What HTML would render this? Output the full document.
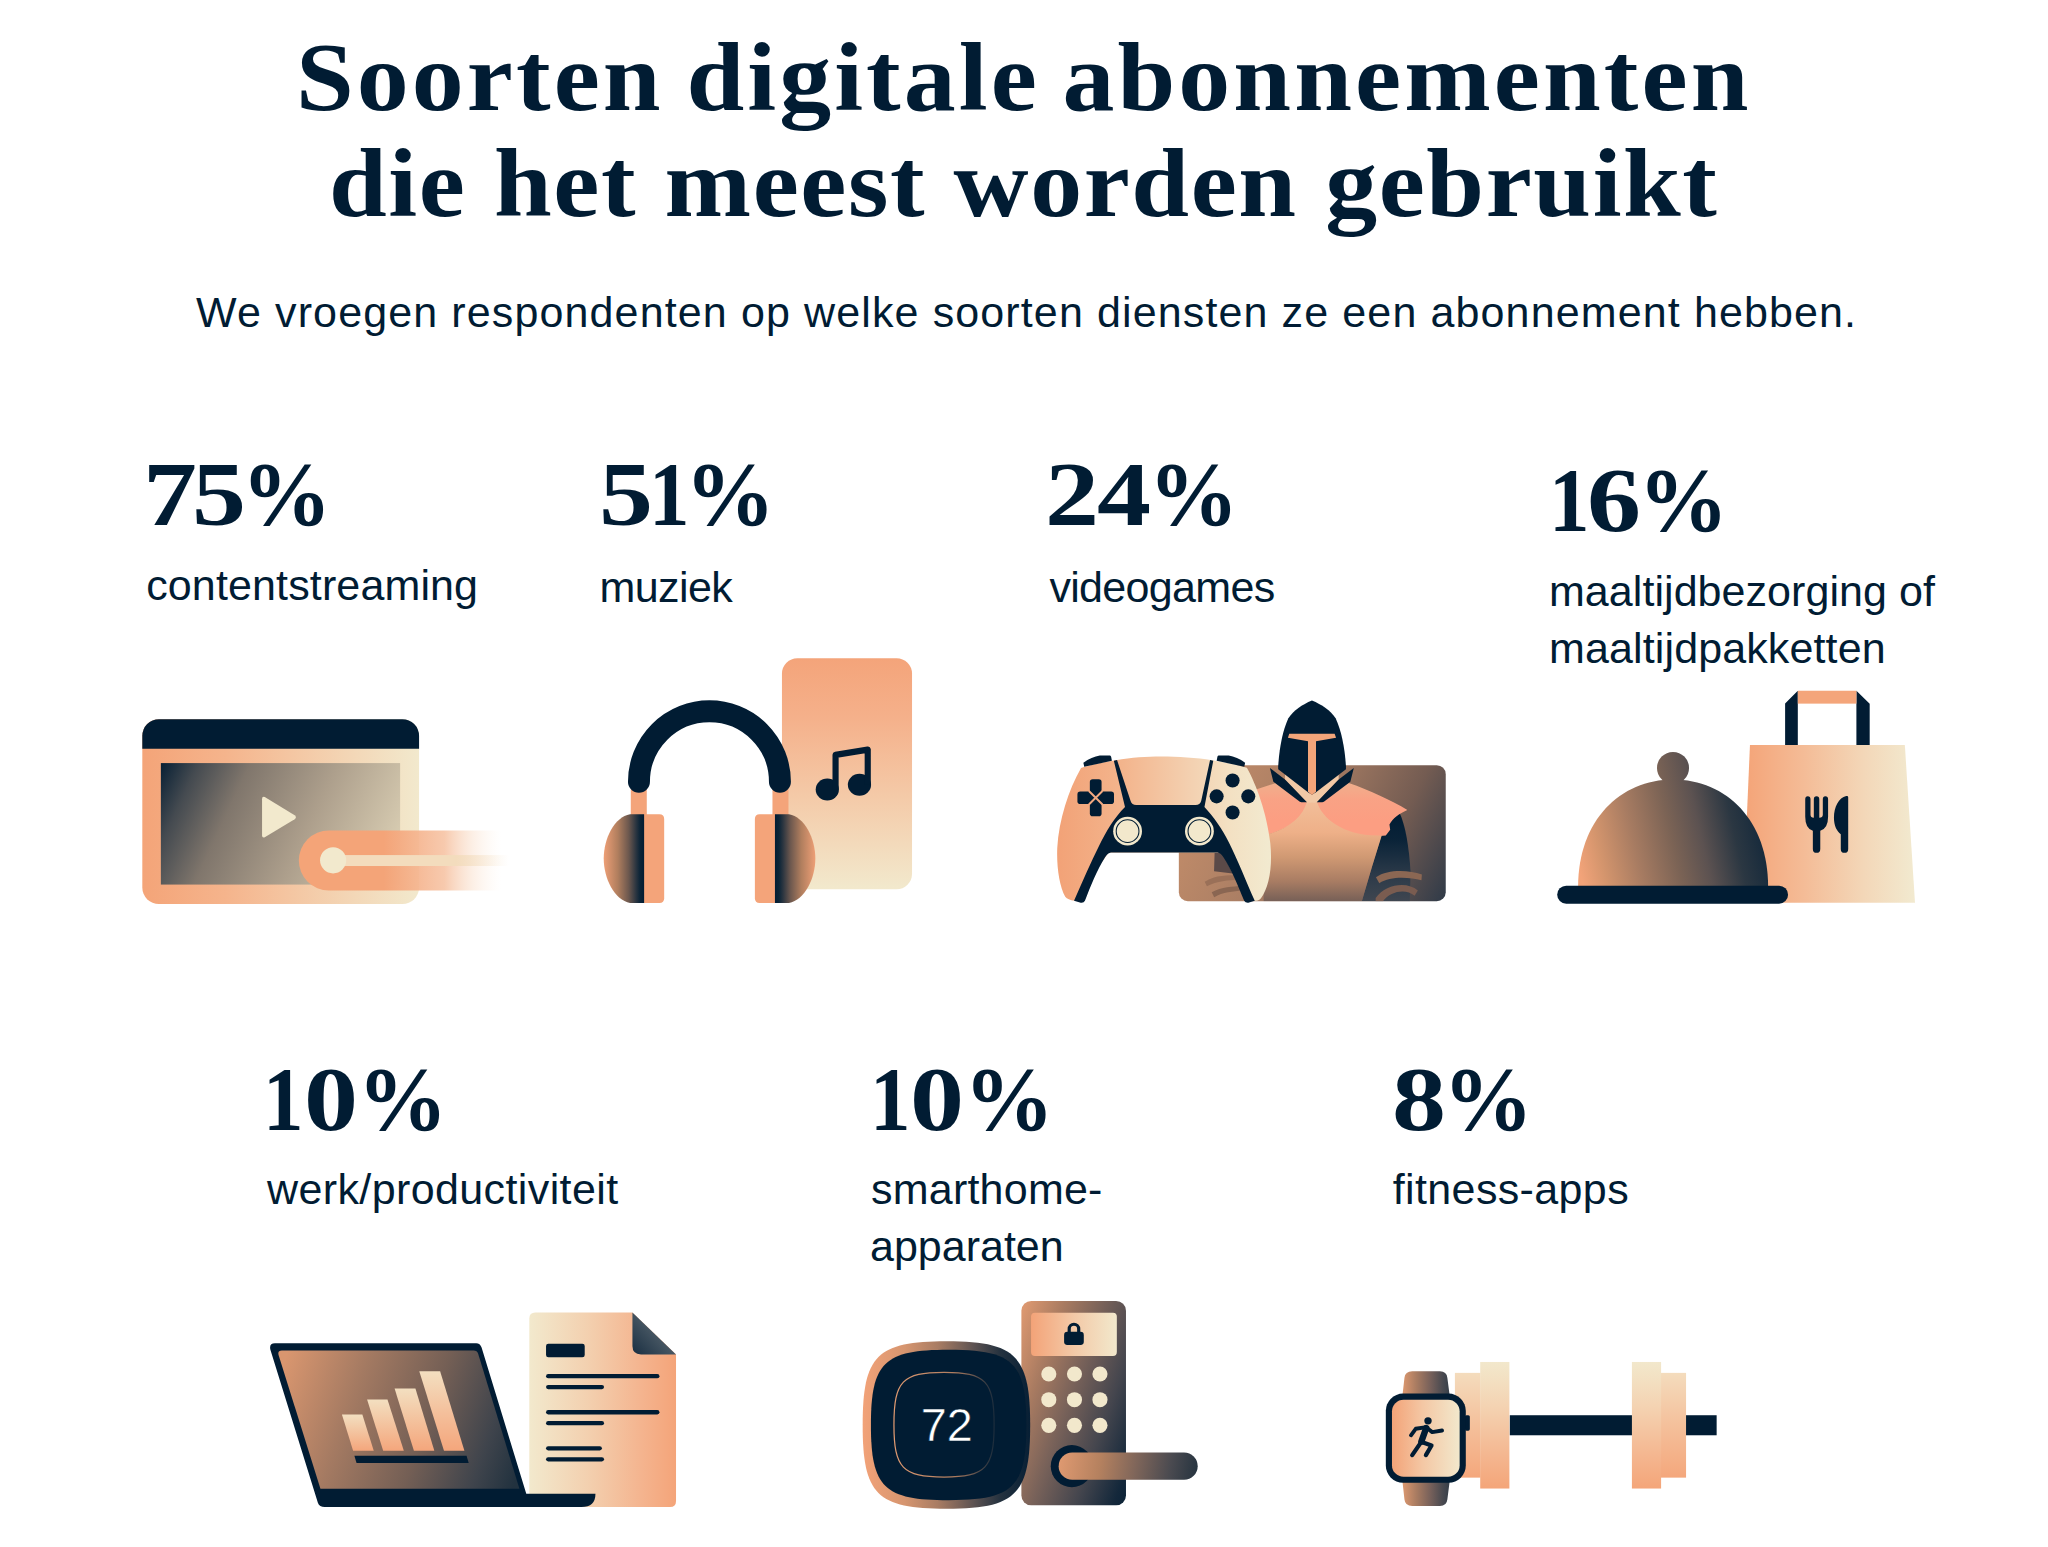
<!DOCTYPE html>
<html lang="nl">
<head>
<meta charset="utf-8">
<title>Soorten digitale abonnementen die het meest worden gebruikt</title>
<style>
html,body{margin:0;padding:0;background:#fff;}
body{width:2048px;height:1547px;position:relative;overflow:hidden;color:#011c33;}
.t{position:absolute;white-space:nowrap;line-height:1;margin:0;}
.h{font-family:"Liberation Serif",serif;font-weight:700;font-size:98px;transform:scaleX(1.06);transform-origin:0 50%;}
.s{font-family:"Liberation Sans",sans-serif;font-weight:400;font-size:43px;}
.n{font-family:"Liberation Serif",serif;font-weight:700;font-size:90px;}
.l{font-family:"Liberation Sans",sans-serif;font-weight:400;font-size:43px;}
.n .d{display:inline-block;transform-origin:0 50%;}
.n .p{display:inline-block;}
svg.ic{position:absolute;overflow:visible;}
</style>
</head>
<body>
<h1 class="t h" id="h1" style="left:295.50px;top:28.22px;letter-spacing:2.893px;word-spacing:-6px;">Soorten digitale abonnementen</h1>
<h1 class="t h" id="h2" style="left:328.70px;top:134.00px;letter-spacing:1.464px;word-spacing:0px;">die het meest worden gebruikt</h1>
<p class="t s" id="sub" style="left:196.00px;top:290.82px;letter-spacing:1.122px;">We vroegen respondenten op welke soorten diensten ze een abonnement hebben.</p>
<div class="t n" id="n1" style="left:142.90px;top:450.22px;"><span class="d" style="width:49.25px;transform:scaleX(1.2);">7</span><span class="d" style="width:49.25px;transform:scaleX(1.2);">5</span><span class="p">%</span></div>
<div class="t l" id="l1" style="left:146.20px;top:563.82px;letter-spacing:0.133px;">contentstreaming</div>
<div class="t n" id="n2" style="left:599.00px;top:450.22px;"><span class="d" style="width:49.75px;transform:scaleX(1.2);">5</span><span class="d" style="width:36.25px;transform:scaleX(0.9);">1</span><span class="p">%</span></div>
<div class="t l" id="l2" style="left:599.50px;top:566.10px;letter-spacing:-0.600px;">muziek</div>
<div class="t n" id="n3" style="left:1045.40px;top:450.22px;"><span class="d" style="width:51.50px;transform:scaleX(1.2);">2</span><span class="d" style="width:51.50px;transform:scaleX(1.2);">4</span><span class="p">%</span></div>
<div class="t l" id="l3" style="left:1049.40px;top:566.10px;letter-spacing:-0.667px;">videogames</div>
<div class="t n" id="n4" style="left:1548.80px;top:456.00px;"><span class="d" style="width:38.00px;transform:scaleX(0.9);">1</span><span class="d" style="width:51.50px;transform:scaleX(1.2);">6</span><span class="p">%</span></div>
<div class="t l" id="l4a" style="left:1549.00px;top:570.00px;letter-spacing:0.053px;">maaltijdbezorging of</div>
<div class="t l" id="l4b" style="left:1549.00px;top:626.82px;letter-spacing:0.125px;">maaltijdpakketten</div>
<div class="t n" id="n5" style="left:263.40px;top:1055.00px;"><span class="d" style="width:40.25px;transform:scaleX(0.9);">1</span><span class="d" style="width:53.75px;transform:scaleX(1.2);">0</span><span class="p">%</span></div>
<div class="t l" id="l5" style="left:267.00px;top:1168.22px;letter-spacing:0.389px;">werk/productiviteit</div>
<div class="t n" id="n6" style="left:869.50px;top:1055.00px;"><span class="d" style="width:40.50px;transform:scaleX(0.9);">1</span><span class="d" style="width:54.00px;transform:scaleX(1.2);">0</span><span class="p">%</span></div>
<div class="t l" id="l6a" style="left:871.00px;top:1168.22px;letter-spacing:0.222px;">smarthome-</div>
<div class="t l" id="l6b" style="left:870.00px;top:1225.32px;letter-spacing:-0.000px;">apparaten</div>
<div class="t n" id="n7" style="left:1391.50px;top:1055.00px;"><span class="d" style="width:51.50px;transform:scaleX(1.2);">8</span><span class="p">%</span></div>
<div class="t l" id="l7" style="left:1392.80px;top:1168.22px;letter-spacing:0.364px;">fitness-apps</div>
<svg class="ic" style="left:130px;top:700px;" width="400" height="220" viewBox="0 0 2048 1126.4">
<defs>
<linearGradient id="a1" x1="0" y1="0" x2="1" y2="0"><stop offset="0" stop-color="#f4a478"/><stop offset="0.3" stop-color="#f5b48c"/><stop offset="1" stop-color="#f2e9cd"/></linearGradient>
<linearGradient id="a2" gradientUnits="userSpaceOnUse" x1="158" y1="350" x2="1383" y2="920"><stop offset="0" stop-color="#0b2236"/><stop offset="0.12" stop-color="#444a50"/><stop offset="0.3" stop-color="#80766c"/><stop offset="0.6" stop-color="#ad9f8c"/><stop offset="1" stop-color="#e0d5b9"/></linearGradient>
<linearGradient id="a3" gradientUnits="userSpaceOnUse" x1="865" y1="0" x2="1900" y2="0"><stop offset="0" stop-color="#f4a478"/><stop offset="0.42" stop-color="#f4a478"/><stop offset="0.72" stop-color="#f6c09f" stop-opacity="0.85"/><stop offset="0.86" stop-color="#f9dcc6" stop-opacity="0.45"/><stop offset="1" stop-color="#fdeee2" stop-opacity="0"/></linearGradient>
<linearGradient id="a4" gradientUnits="userSpaceOnUse" x1="1040" y1="0" x2="1940" y2="0"><stop offset="0" stop-color="#f3dcbd"/><stop offset="0.7" stop-color="#f3dcbd"/><stop offset="1" stop-color="#f7e6d0" stop-opacity="0"/></linearGradient>
</defs>
<rect x="63" y="98" width="1417" height="947" rx="85" fill="url(#a1)"/>
<path d="M63 250V183a85 85 0 0 1 85-85H1395a85 85 0 0 1 85 85V250Z" fill="#011c33"/>
<rect x="158" y="323" width="1225" height="622" fill="url(#a2)"/>
<path d="M690 497 L843 590 Q856 600 843 611 L690 703 Q676 708 676 692 V508 Q676 492 690 497Z" fill="#f2e9cd"/>
<path d="M1018 668 H1910 V975 H1018 A153.5 153.5 0 0 1 1018 668Z" fill="url(#a3)"/>
<rect x="1040" y="794" width="900" height="56" fill="url(#a4)"/>
<circle cx="1040" cy="821" r="67" fill="#f2e9cd"/>
</svg>
<svg class="ic" style="left:590px;top:645px;" width="360" height="270" viewBox="0 0 2048 1536">
<defs>
<linearGradient id="b1" x1="0" y1="0" x2="0" y2="1"><stop offset="0" stop-color="#f4a47a"/><stop offset="0.25" stop-color="#f5b08a"/><stop offset="0.6" stop-color="#f4caa8"/><stop offset="1" stop-color="#f2e9cd"/></linearGradient>
<linearGradient id="b2" gradientUnits="userSpaceOnUse" x1="78" y1="0" x2="308" y2="0"><stop offset="0" stop-color="#ee9f76"/><stop offset="0.35" stop-color="#b07e5e"/><stop offset="0.62" stop-color="#6b574e"/><stop offset="0.8" stop-color="#2b3540"/><stop offset="0.9" stop-color="#0b2437"/><stop offset="1" stop-color="#011c33"/></linearGradient>
<linearGradient id="b3" gradientUnits="userSpaceOnUse" x1="1282" y1="0" x2="1052" y2="0"><stop offset="0" stop-color="#ee9f76"/><stop offset="0.35" stop-color="#b07e5e"/><stop offset="0.62" stop-color="#6b574e"/><stop offset="0.8" stop-color="#2b3540"/><stop offset="0.9" stop-color="#0b2437"/><stop offset="1" stop-color="#011c33"/></linearGradient>
</defs>
<rect x="1092" y="75" width="740" height="1315" rx="88" fill="url(#b1)"/>
<rect x="232" y="790" width="91" height="180" fill="#f4a47a"/>
<rect x="1038" y="790" width="91" height="180" fill="#f4a47a"/>
<path d="M278.500 778.500 A401 401 0 0 1 1080.500 778.500" fill="none" stroke="#011c33" stroke-width="125" stroke-linecap="round"/>
<path d="M300 963 H395 Q422 963 422 990 V1441 Q422 1468 395 1468 H300Z" fill="#f4a47a"/>
<path d="M308 963 H228 C140 978 78 1100 78 1215 C78 1330 140 1452 228 1468 H308Z" fill="url(#b2)"/>
<path d="M1060 963 H965 Q938 963 938 990 V1441 Q938 1468 965 1468 H1060Z" fill="#f4a47a"/>
<path d="M1052 963 H1132 C1220 978 1282 1100 1282 1215 C1282 1330 1220 1452 1132 1468 H1052Z" fill="url(#b3)"/>
<g fill="#011c33">
<ellipse cx="1350" cy="822" rx="66" ry="63"/>
<ellipse cx="1533" cy="795" rx="66" ry="63"/>
<path d="M1397 822 V625 L1580 595 V795" fill="none" stroke="#011c33" stroke-width="35" stroke-linejoin="round"/>
</g>
</svg>
<svg class="ic" style="left:1040px;top:680px;" width="420" height="240" viewBox="1040 680 420 240">
<defs>
<linearGradient id="c1" gradientUnits="userSpaceOnUse" x1="-300" y1="517" x2="1552" y2="1452"><stop offset="0" stop-color="#c9906b"/><stop offset="0.45" stop-color="#a67c63"/><stop offset="0.75" stop-color="#745c52"/><stop offset="1" stop-color="#2f3a48"/></linearGradient>
<linearGradient id="c2" gradientUnits="userSpaceOnUse" x1="0" y1="780" x2="0" y2="1452"><stop offset="0" stop-color="#f2bd98"/><stop offset="0.3" stop-color="#eeb088"/><stop offset="0.55" stop-color="#d09973"/><stop offset="0.8" stop-color="#a87c63"/><stop offset="1" stop-color="#776057"/></linearGradient>
<linearGradient id="c3" gradientUnits="userSpaceOnUse" x1="0" y1="850" x2="0" y2="1452"><stop offset="0" stop-color="#011c33"/><stop offset="0.3" stop-color="#0a2338"/><stop offset="0.7" stop-color="#2c3a49"/><stop offset="1" stop-color="#3f4650"/></linearGradient>
<linearGradient id="c4" gradientUnits="userSpaceOnUse" x1="62" y1="0" x2="1885" y2="0"><stop offset="0" stop-color="#f2a277"/><stop offset="0.3" stop-color="#f3b48c"/><stop offset="0.62" stop-color="#f3d0b0"/><stop offset="0.8" stop-color="#f3e0c2"/><stop offset="1" stop-color="#f2ead0"/></linearGradient>
<linearGradient id="c6" gradientUnits="userSpaceOnUse" x1="0" y1="630" x2="0" y2="900"><stop offset="0" stop-color="#efb08d"/><stop offset="0.45" stop-color="#f9a285"/><stop offset="1" stop-color="#fc9e82"/></linearGradient>
<clipPath id="c5"><rect x="-283" y="517" width="1835" height="935" rx="62"/></clipPath>
</defs>
<!-- card + knight : zoom B coords -->
<g transform="translate(1220,690) scale(0.1454545)">
<rect x="-283" y="517" width="1835" height="935" rx="62" fill="url(#c1)"/>
<g clip-path="url(#c5)">
<!-- far arm behind controller -->
<path d="M-37 1121 L15 1121 L88 1262 L-41 1246Z" fill="#5b4a48"/><path d="M-105 1318 C-30 1270 60 1275 120 1272 L125 1306 C60 1308 -20 1310 -90 1350Z" fill="#9a7058"/><path d="M-57 1390 C10 1350 90 1352 152 1345 L156 1378 C90 1384 20 1388 -40 1425Z" fill="#8a6652"/>
<!-- right arm (navy) -->
<path d="M1235 845 C1275 930 1300 1080 1310 1250 L1305 1452 H975 L1045 1215 L1110 1000 L1170 900Z" fill="url(#c3)"/>
<!-- gauntlet bands -->
<path d="M1072 1288 C1160 1228 1300 1240 1388 1268 L1385 1308 C1300 1285 1170 1278 1095 1328Z" fill="#8b6753"/>
<path d="M1070 1430 C1140 1330 1290 1315 1360 1378 L1338 1415 C1280 1365 1175 1380 1120 1452 L1070 1452Z" fill="#7a5c50"/>
<!-- pauldrons (salmon) -->
<path d="M200 700 L400 635 L632 770 L885 640 C1030 690 1180 760 1288 825 C1230 850 1190 880 1165 925 L1170 960 L1140 1000 C900 1030 720 920 632 770 C600 860 480 950 340 990 L200 1000Z" fill="url(#c6)"/>
<!-- torso -->
<path d="M596 772 H668 C700 880 850 1010 1112 1000 L1045 1215 L975 1452 H300 V1000 C470 960 570 870 596 772Z" fill="url(#c2)"/>
</g>
<!-- collar: peach V then navy pieces -->
<path d="M447 572 V616 L598 776 H665 L816 616 V572Z" fill="#f2c9a6"/>
<path d="M343 536 L447 616 L598 772 L560 772 Q548 770 540 762 L367 630Z" fill="#011c33"/>
<path d="M920 536 L816 616 L665 772 L703 772 Q715 770 723 762 L896 630Z" fill="#011c33"/>
<!-- helmet -->
<path d="M632 72 C700 100 760 140 795 195 C835 280 858 400 866 525 L866 545 L660 703 L632 720 L605 703 L400 545 L400 525 C408 400 430 280 470 195 C505 140 565 100 632 72Z" fill="#011c33"/>
<path d="M476 300 H788 L798 328 L660 352 V700 L632 722 L605 700 V352 L467 328Z" fill="#f3a57a"/>
</g>
<!-- controller : zoom A coords -->
<g transform="translate(1050,740) scale(0.1171875)">
<path d="M265 238 C400 200 480 185 560 172 C700 148 820 140 950 140 C1090 140 1250 150 1385 172 C1480 188 1580 210 1680 236 C1760 380 1850 620 1880 880 C1900 1080 1870 1260 1800 1350 C1785 1368 1765 1374 1745 1372 L1500 960 H500 L210 1372 C170 1368 145 1355 130 1338 C80 1250 55 1080 62 920 C75 680 160 420 265 238Z" fill="url(#c4)"/>
<g fill="#011c33">
<path d="M285 195 C330 160 380 140 425 133 L512 133 Q520 135 522 145 L528 178 L292 228Z"/>
<path d="M1665 195 C1620 160 1570 140 1525 133 L1438 133 Q1430 135 1428 145 L1422 178 L1658 228Z"/>
<path d="M545 178 L572 171 L688 520 Q698 553 735 555 H1243 Q1280 553 1290 520 L1366 171 L1393 178 L1318 572 C1400 660 1470 760 1530 880 C1600 1020 1680 1220 1747 1372 L1692 1388 Q1668 1390 1657 1372 C1600 1230 1540 1090 1480 1000 Q1455 962 1430 960 H520 Q495 962 470 1000 C400 1110 345 1250 298 1372 Q288 1392 262 1388 L205 1372 C280 1200 350 1040 420 900 C480 780 550 660 640 572Z"/>
<rect x="340" y="335" width="100" height="316" rx="24"/>
<rect x="234" y="440" width="312" height="106" rx="24"/>
<circle cx="1558" cy="345" r="60"/><circle cx="1422" cy="481" r="60"/><circle cx="1692" cy="481" r="60"/><circle cx="1558" cy="618" r="60"/>
</g>
<path d="M332 435 L448 551 M448 435 L332 551" stroke="#f2a880" stroke-width="17" fill="none"/>
<circle cx="662" cy="778" r="123" fill="#f2e8cc"/><circle cx="662" cy="778" r="97" fill="none" stroke="#011c33" stroke-width="9"/>
<circle cx="1275" cy="778" r="123" fill="#f2e8cc"/><circle cx="1275" cy="778" r="97" fill="none" stroke="#011c33" stroke-width="9"/>
</g>
</svg>
<svg class="ic" style="left:1540px;top:680px;" width="400" height="240" viewBox="0 0 2048 1228.8">
<defs>
<linearGradient id="d1" gradientUnits="userSpaceOnUse" x1="1050" y1="0" x2="1920" y2="0"><stop offset="0" stop-color="#f4a478"/><stop offset="0.35" stop-color="#f4bc97"/><stop offset="0.7" stop-color="#f3d7b8"/><stop offset="1" stop-color="#f2ead0"/></linearGradient>
<linearGradient id="d2" gradientUnits="userSpaceOnUse" x1="200" y1="960" x2="1168" y2="740"><stop offset="0" stop-color="#f2a379"/><stop offset="0.12" stop-color="#d4956d"/><stop offset="0.3" stop-color="#a87c62"/><stop offset="0.5" stop-color="#7b6355"/><stop offset="0.65" stop-color="#5c5251"/><stop offset="0.82" stop-color="#2b3742"/><stop offset="1" stop-color="#10263a"/></linearGradient>
</defs>
<path d="M1255 340 V120 L1320 55 V340Z M1620 340 V55 L1688 122 V340Z" fill="#011c33"/>
<rect x="1320" y="55" width="300" height="66" fill="#f4a57a"/>
<path d="M1075 333 H1868 L1920 1140 H1040Z" fill="url(#d1)"/>
<circle cx="681" cy="450" r="82" fill="url(#d2)"/>
<path d="M195 1060 C195 720 410 510 681 510 C955 510 1168 720 1168 1060Z" fill="url(#d2)"/>
<rect x="88" y="1053" width="1182" height="92" rx="46" fill="#011c33"/>
<g fill="#011c33">
<path d="M1358 610 Q1358 595 1371 595 Q1385 595 1385 610 V690 Q1385 705 1402 705 V610 Q1402 595 1416 595 Q1430 595 1430 610 V705 Q1448 705 1448 690 V610 Q1448 595 1461 595 Q1475 595 1475 610 V700 Q1475 760 1435 772 V865 Q1435 885 1416 885 Q1397 885 1397 865 V772 Q1358 760 1358 700Z"/>
<path d="M1578 600 Q1578 592 1568 594 C1530 602 1505 650 1505 705 C1505 745 1520 775 1540 790 V865 Q1540 885 1559 885 Q1578 885 1578 865Z"/>
</g>
</svg>
<svg class="ic" style="left:256px;top:1290px;" width="440" height="230" viewBox="0 0 2048 1070.5">
<defs>
<linearGradient id="e1" gradientUnits="userSpaceOnUse" x1="1272" y1="0" x2="1955" y2="0"><stop offset="0" stop-color="#f2e9cd"/><stop offset="0.4" stop-color="#f3d0af"/><stop offset="0.75" stop-color="#f4b590"/><stop offset="1" stop-color="#f4a479"/></linearGradient>
<linearGradient id="e2" gradientUnits="userSpaceOnUse" x1="1760" y1="300" x2="1900" y2="170"><stop offset="0" stop-color="#1b3043"/><stop offset="1" stop-color="#56646e"/></linearGradient>
<linearGradient id="e3" gradientUnits="userSpaceOnUse" x1="100" y1="420" x2="1230" y2="820"><stop offset="0" stop-color="#d9966f"/><stop offset="0.3" stop-color="#a47a62"/><stop offset="0.6" stop-color="#745f55"/><stop offset="0.85" stop-color="#3f444c"/><stop offset="1" stop-color="#22323f"/></linearGradient>
<linearGradient id="e4" gradientUnits="userSpaceOnUse" x1="0" y1="378" x2="0" y2="748"><stop offset="0" stop-color="#f3dfc0"/><stop offset="0.5" stop-color="#f4c19d"/><stop offset="1" stop-color="#f4a67c"/></linearGradient>
<linearGradient id="e5" gradientUnits="userSpaceOnUse" x1="0" y1="580" x2="0" y2="748"><stop offset="0" stop-color="#f3dfc0"/><stop offset="1" stop-color="#f4a67c"/></linearGradient>
<linearGradient id="e6" gradientUnits="userSpaceOnUse" x1="0" y1="510" x2="0" y2="748"><stop offset="0" stop-color="#f3dfc0"/><stop offset="1" stop-color="#f4a67c"/></linearGradient>
<linearGradient id="e7" gradientUnits="userSpaceOnUse" x1="0" y1="458" x2="0" y2="748"><stop offset="0" stop-color="#f3dfc0"/><stop offset="1" stop-color="#f4a67c"/></linearGradient>
</defs>
<path d="M1300 105 H1752 L1955 300 V982 Q1955 1010 1927 1010 H1300 Q1272 1010 1272 982 V133 Q1272 105 1300 105Z" fill="url(#e1)"/>
<path d="M1752 105 L1955 300 H1792 Q1752 300 1752 260Z" fill="url(#e2)"/>
<g fill="#011c33">
<rect x="1350" y="250" width="180" height="63" rx="11"/>
<rect x="1350" y="391" width="528" height="20" rx="10"/>
<rect x="1350" y="442" width="270" height="20" rx="10"/>
<rect x="1350" y="559" width="528" height="20" rx="10"/>
<rect x="1350" y="610" width="270" height="20" rx="10"/>
<rect x="1350" y="727" width="260" height="20" rx="10"/>
<rect x="1350" y="778" width="270" height="20" rx="10"/>
<path d="M88 248 H1025 Q1043 248 1050 268 L1258 948 H1580 Q1580 1010 1515 1010 H320 Q295 1010 288 990 L67 278 Q60 248 88 248Z"/>
</g>
<path d="M120 282 H1013 Q1029 282 1034 297 L1226 925 H300 L105 302 Q100 282 120 282Z" fill="url(#e3)"/>
<path d="M400 580 H495 L548 748 H452Z" fill="url(#e5)"/>
<path d="M517 510 H612 L688 748 H592Z" fill="url(#e6)"/>
<path d="M645 458 H742 L830 748 H735Z" fill="url(#e7)"/>
<path d="M760 378 H857 L970 748 H875Z" fill="url(#e4)"/>
<path d="M458 772 H980 L990 805 H468Z" fill="#011c33"/>
</svg>
<svg class="ic" style="left:850px;top:1290px;" width="360" height="230" viewBox="0 0 2048 1308.4">
<defs>
<linearGradient id="f1" gradientUnits="userSpaceOnUse" x1="975" y1="80" x2="1942" y2="421"><stop offset="0" stop-color="#e09a71"/><stop offset="0.22" stop-color="#a97b61"/><stop offset="0.43" stop-color="#776159"/><stop offset="0.65" stop-color="#45464e"/><stop offset="0.85" stop-color="#14283b"/><stop offset="1" stop-color="#021d33"/></linearGradient>
<linearGradient id="f2" gradientUnits="userSpaceOnUse" x1="1030" y1="0" x2="1518" y2="0"><stop offset="0" stop-color="#f3a378"/><stop offset="0.5" stop-color="#f3c9a7"/><stop offset="1" stop-color="#f2e8cc"/></linearGradient>
<linearGradient id="f3" gradientUnits="userSpaceOnUse" x1="1187" y1="940" x2="1978" y2="1060"><stop offset="0" stop-color="#e09a71"/><stop offset="0.3" stop-color="#b5815f"/><stop offset="0.55" stop-color="#80665a"/><stop offset="0.8" stop-color="#4a4a50"/><stop offset="1" stop-color="#25333f"/></linearGradient>
<linearGradient id="f4" gradientUnits="userSpaceOnUse" x1="72" y1="0" x2="1025" y2="0"><stop offset="0" stop-color="#f2a278"/><stop offset="0.25" stop-color="#d6956f"/><stop offset="0.45" stop-color="#a87c63"/><stop offset="0.66" stop-color="#5e5352"/><stop offset="0.82" stop-color="#25323f"/><stop offset="1" stop-color="#071f35"/></linearGradient>
<linearGradient id="f5" gradientUnits="userSpaceOnUse" x1="250" y1="0" x2="820" y2="0"><stop offset="0" stop-color="#e09a71"/><stop offset="0.6" stop-color="#b07e60"/><stop offset="1" stop-color="#1b2c3c"/></linearGradient>
</defs>
<rect x="975" y="62" width="595" height="1163" rx="56" fill="url(#f1)"/>
<rect x="1030" y="130" width="488" height="245" rx="22" fill="url(#f2)"/>
<rect x="1218" y="238" width="112" height="75" rx="18" fill="#011c33"/>
<path d="M1247 246 V222 A27 27 0 0 1 1301 222 V246" fill="none" stroke="#011c33" stroke-width="18"/>
<g fill="#f2e8cc"><circle cx="1131" cy="478" r="43"/><circle cx="1277" cy="478" r="43"/><circle cx="1422" cy="478" r="43"/><circle cx="1131" cy="624" r="43"/><circle cx="1277" cy="624" r="43"/><circle cx="1422" cy="624" r="43"/><circle cx="1131" cy="770" r="43"/><circle cx="1277" cy="770" r="43"/><circle cx="1422" cy="770" r="43"/></g>
<circle cx="1262" cy="1002" r="120" fill="#011c33"/>
<rect x="1187" y="925" width="791" height="155" rx="77.500" fill="url(#f3)"/>
<path d="M548.5 292 C944 292 1025 373 1025 768.5 C1025 1164 944 1245 548.5 1245 C153 1245 72 1164 72 768.5 C72 373 153 292 548.5 292Z" fill="url(#f4)"/>
<path d="M561 339.4 C927.9 339.4 1003 412.2 1003 767.4 C1003 1122.6 927.9 1195.4 561 1195.4 C194.1 1195.4 119 1122.6 119 767.4 C119 412.2 194.1 339.4 561 339.4Z" fill="#011c33"/>
<path d="M535 468 C771.5 468 820 518.7 820 766 C820 1013.3 771.5 1064 535 1064 C298.5 1064 250 1013.3 250 766 C250 518.7 298.5 468 535 468Z" fill="none" stroke="url(#f5)" stroke-width="7"/>
<text x="550" y="860" text-anchor="middle" font-family="Liberation Sans, sans-serif" font-size="266" fill="#ffffff" stroke="#011c33" stroke-width="3">72</text>
</svg>
<svg class="ic" style="left:1370px;top:1340px;" width="360" height="180" viewBox="0 0 2048 1024">
<defs>
<linearGradient id="g1" gradientUnits="userSpaceOnUse" x1="0" y1="125" x2="0" y2="845"><stop offset="0" stop-color="#f2e8cc"/><stop offset="0.35" stop-color="#f4d3b2"/><stop offset="0.7" stop-color="#f4b993"/><stop offset="1" stop-color="#f4a579"/></linearGradient>
<linearGradient id="g2" gradientUnits="userSpaceOnUse" x1="0" y1="187" x2="0" y2="783"><stop offset="0" stop-color="#f4dcbd"/><stop offset="0.5" stop-color="#f4c09b"/><stop offset="1" stop-color="#f4a77c"/></linearGradient>
<linearGradient id="g3" gradientUnits="userSpaceOnUse" x1="185" y1="0" x2="452" y2="0"><stop offset="0" stop-color="#dc986f"/><stop offset="0.3" stop-color="#a87b61"/><stop offset="0.6" stop-color="#76605a"/><stop offset="0.85" stop-color="#4a4a50"/><stop offset="1" stop-color="#363f49"/></linearGradient>
<linearGradient id="g4" gradientUnits="userSpaceOnUse" x1="125" y1="0" x2="510" y2="0"><stop offset="0" stop-color="#f3a378"/><stop offset="0.45" stop-color="#f4c7a4"/><stop offset="1" stop-color="#f2e8cc"/></linearGradient>
</defs>
<rect x="795" y="428" width="1177" height="114" fill="#011c33"/>
<rect x="483" y="187" width="146" height="596" fill="url(#g2)"/>
<rect x="627" y="125" width="166" height="720" fill="url(#g1)"/>
<rect x="1655" y="187" width="143" height="596" fill="url(#g2)"/>
<rect x="1490" y="125" width="166" height="720" fill="url(#g1)"/>
<path d="M240 178 H398 Q436 178 440 215 L455 330 H183 L196 215 Q200 178 240 178Z" fill="url(#g3)"/>
<path d="M240 945 H398 Q436 945 440 908 L455 790 H183 L196 908 Q200 945 240 945Z" fill="url(#g3)"/>
<rect x="540" y="428" width="28" height="88" rx="9" fill="#011c33"/>
<rect x="90" y="305" width="455" height="507" rx="98" fill="#011c33"/>
<rect x="125" y="340" width="385" height="438" rx="66" fill="url(#g4)"/>
<g fill="none" stroke="#011c33" stroke-linecap="round" stroke-linejoin="round">
<path d="M320 500 L292 578" stroke-width="36"/>
<path d="M312 497 L260 505 L233 542" stroke-width="22"/>
<path d="M326 502 L354 524 L410 515" stroke-width="22"/>
<path d="M294 580 L350 600 L318 655" stroke-width="24"/>
<path d="M288 585 L240 655" stroke-width="24"/>
</g>
<circle cx="330" cy="460" r="21" fill="#011c33"/>
</svg>
</body>
</html>
